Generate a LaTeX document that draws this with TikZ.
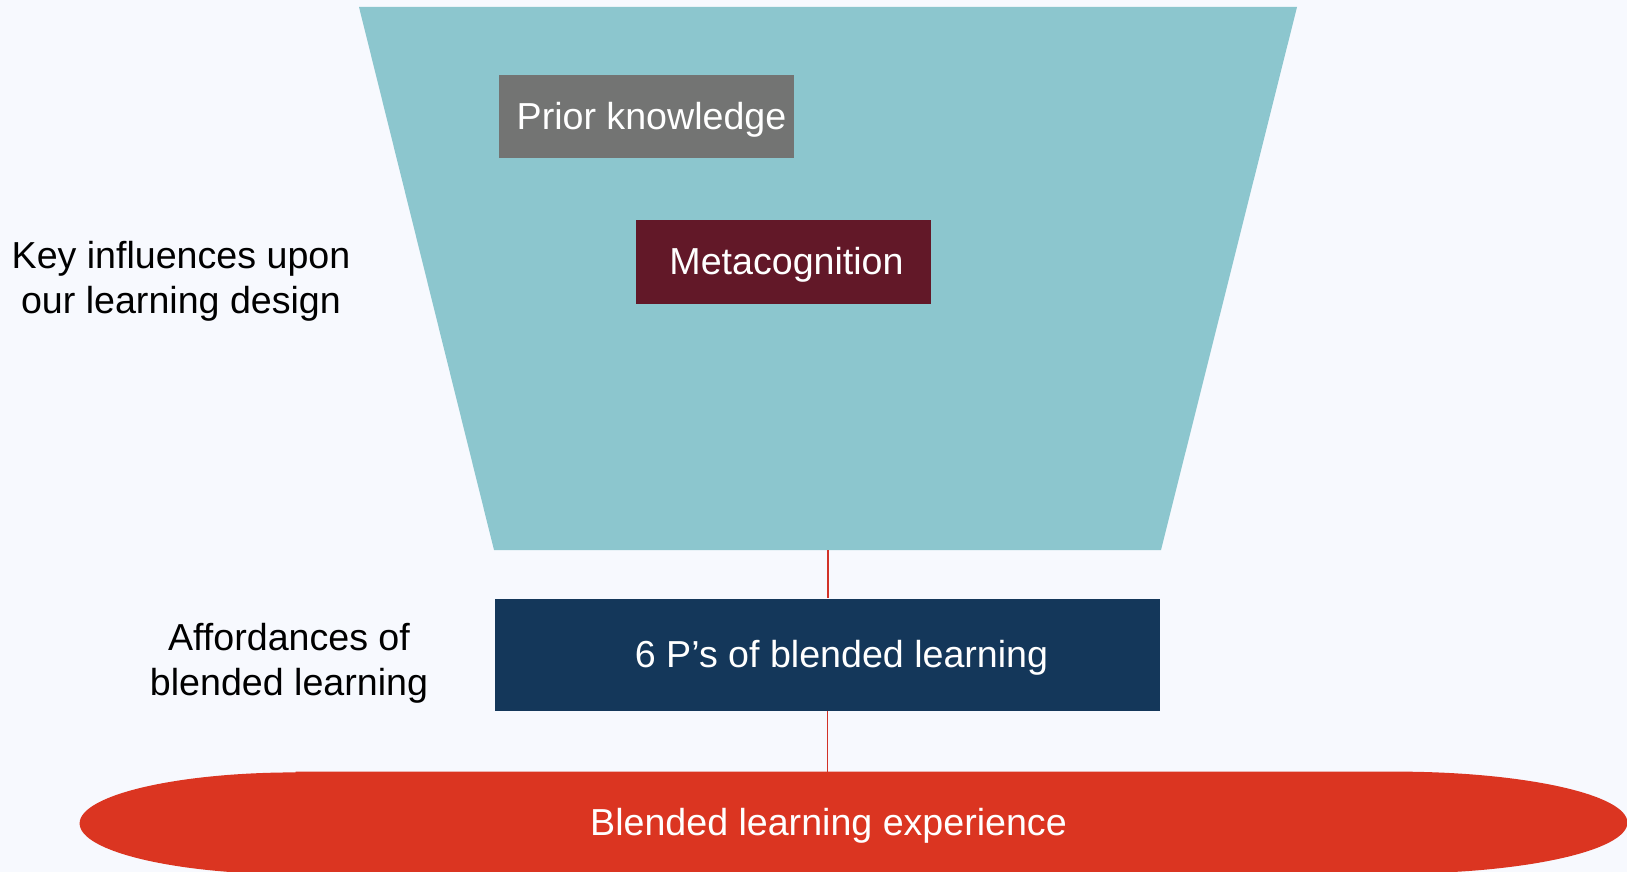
\documentclass[tikz,border=0pt]{standalone}
\usepackage{fontspec}
\setmainfont{Liberation Sans}

\definecolor{bgwhite}{RGB}{247,249,254}
\definecolor{funnelteal}{RGB}{140,198,206}
\definecolor{priorgrey}{RGB}{115,116,115}
\definecolor{metamaroon}{RGB}{98,24,40}
\definecolor{pnavy}{RGB}{20,55,90}
\definecolor{expred}{RGB}{219,53,33}
\definecolor{linkred}{RGB}{210,50,40}

\begin{document}
\begin{tikzpicture}[
  x=0.5pt, y=0.5pt,
  every node/.style={font=\fontsize{18.8}{22.5}\selectfont},
  box/.style={fill=#1, text=white, inner sep=0pt, text height=15pt, text depth=2.5pt},
  side/.style={align=center, text=black},
  link/.style={draw=linkred, line width=0.75pt},
]
\useasboundingbox (0,0) rectangle (1627,-872);
\fill[bgwhite] (0,0) rectangle (1627,-872);

% funnel
\fill[funnelteal] (359,-7) -- (1297,-7) -- (1161,-550) -- (494,-550) -- cycle;
\coordinate (funnel) at (828,-550);

\node[box=priorgrey, minimum width=147.5pt, minimum height=41.5pt] (prior) at (646.5,-116.5) {\hspace{5pt}Prior knowledge};
\node[box=metamaroon, minimum width=147.5pt, minimum height=42pt] (meta) at (783.5,-262) {\hspace{3pt}Metacognition};
\node[box=pnavy, minimum width=332.5pt, minimum height=56pt] (six) at (827.5,-654.5) {\hspace{14pt}6 P’s of blended learning};

% experience
\node[minimum width=773.5pt, minimum height=51pt, inner sep=0pt] (exp) at (853.5,-823) {};
\fill[expred] ([xshift=108pt]exp.north west) -- ([xshift=-116pt]exp.north east)
  arc[start angle=90, end angle=-90, x radius=116pt, y radius=25.5pt]
  -- ([xshift=108pt]exp.south west)
  arc[start angle=270, end angle=90, x radius=108pt, y radius=25.5pt] -- cycle;
\node[text=white, text height=15pt, text depth=2.5pt] (exptext) at ([xshift=-12.5pt]exp.center) {Blended learning experience};

\draw[link] (funnel) -- (funnel |- six.north);
\draw[link] (six.south) -- (six.south |- exp.north);

\node[side] (influences) at (181,-281) {Key influences upon\\our learning design};
\node[side] (affordances) at (289,-663.5) {Affordances of\\blended learning};
\end{tikzpicture}
\end{document}
